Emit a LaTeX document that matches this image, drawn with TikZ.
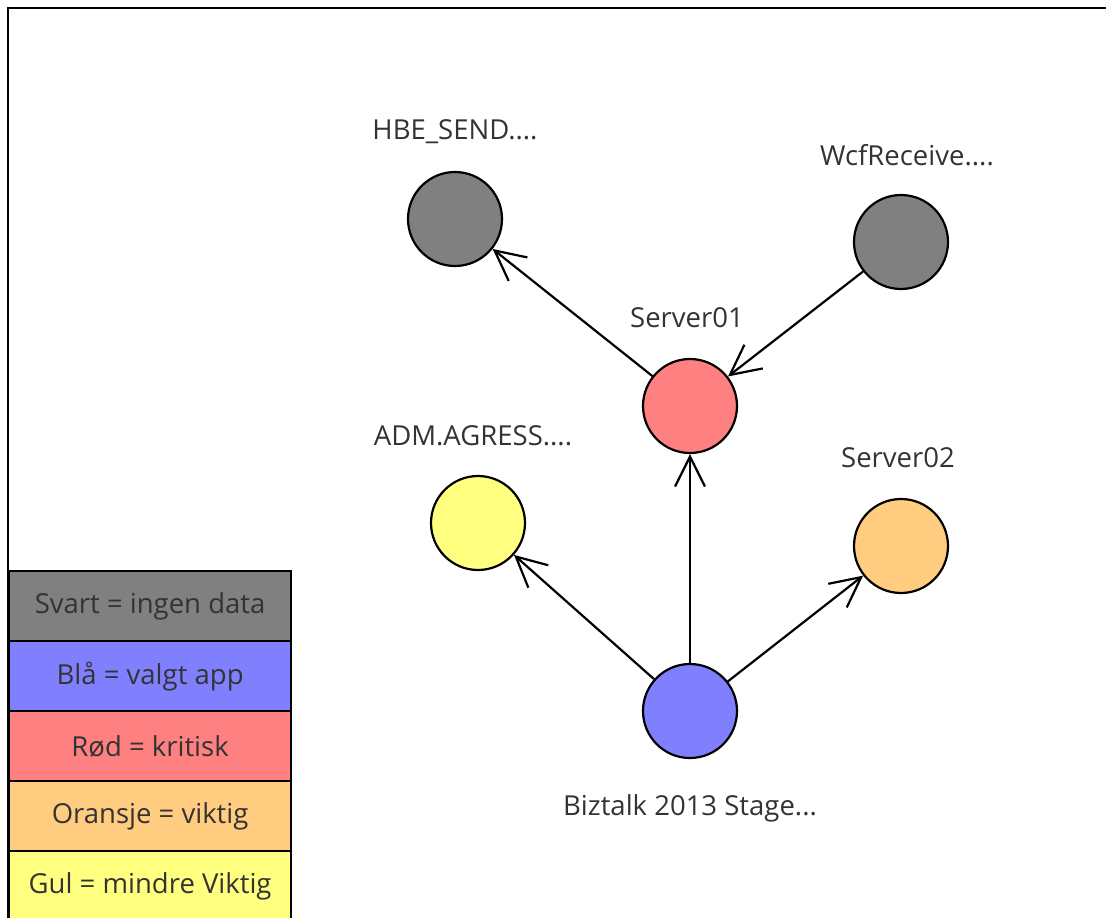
\documentclass[tikz,border=0pt]{standalone}
\usepackage{fontspec}
\setmainfont{Open Sans}
\usetikzlibrary{arrows.meta}
\definecolor{cgray}{HTML}{808080}
\definecolor{cred}{HTML}{FF8080}
\definecolor{cblue}{HTML}{8080FF}
\definecolor{corange}{HTML}{FFCC80}
\definecolor{cyellow}{HTML}{FFFF80}
\definecolor{ctext}{HTML}{333333}
\tikzset{
  app/.style={circle, draw=black, line width=2.2pt, minimum size=94pt, inner sep=0pt},
  lbl/.style={font=\fontsize{27.5}{32}\selectfont, text=ctext},
  leg/.style={draw=black, line width=2.2pt, minimum width=282pt, minimum height=70pt, inner sep=0pt, anchor=north west, font=\fontsize{27.5}{32}\selectfont, text=ctext},
  conn/.style={line width=2.2pt, -{Straight Barb[length=30pt, width=30pt, line width=2.2pt]}},
}
\begin{document}
\begin{tikzpicture}[x=1pt, y=-1pt]
\useasboundingbox (0,0) rectangle (1106,918);
\draw[line width=2.2pt] (1110,8) -- (8,8) -- (8,922);
% nodes
\node[app, fill=cgray] (hbe) at (455,219) {};
\node[app, fill=cgray] (wcf) at (901,242) {};
\node[app, fill=cred] (s1) at (690,406) {};
\node[app, fill=cyellow] (adm) at (478,523) {};
\node[app, fill=corange] (s2) at (901,546) {};
\node[app, fill=cblue] (biz) at (690,711) {};
% labels
\node[lbl] (lhbe) at (455,132) {HBE\_SEND....};
\node[lbl] (lwcf) at (907,155) {WcfReceive....};
\node[lbl] (ls1) at (687,318) {Server01};
\node[lbl] (ladm) at (473,436) {ADM.AGRESS....};
\node[lbl] (ls2) at (898,458) {Server02};
\node[lbl] (lbiz) at (690,808) {Biztalk 2013 Stage...};
% connectors
\draw[conn] (s1) -- (hbe);
\draw[conn] (wcf) -- (s1);
\draw[conn] (biz) -- (s1);
\draw[conn] (biz) -- (adm);
\draw[conn] (biz) -- (s2);
% legend
\node[leg, fill=cgray] (l1) at (8,570) {Svart = ingen data};
\node[leg, fill=cblue] (l2) at (8,640) {Blå = valgt app};
\node[leg, fill=cred] (l3) at (8,710) {Rød = kritisk};
\node[leg, fill=corange] (l4) at (8,780) {Oransje = viktig};
\node[leg, fill=cyellow] (l5) at (8,850) {Gul = mindre Viktig};
\end{tikzpicture}
\end{document}
